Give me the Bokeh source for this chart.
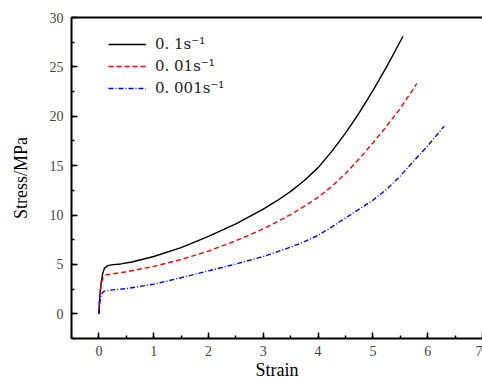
from bokeh.plotting import figure
from bokeh.models import (LinearAxis, SingleIntervalTicker, FixedTicker, Legend,
                          LegendItem, Range1d)
from bokeh.embed import file_html
from bokeh.resources import INLINE

# ---- data ----
strain_01 = [0, 0.01, 0.02, 0.04, 0.07, 0.1, 0.15, 0.22, 0.4, 0.6, 1.0, 1.5,
             2.0, 2.5, 3.0, 3.25, 3.5, 3.75, 4.0, 4.25, 4.5, 4.75, 5.0, 5.25,
             5.55]
stress_01 = [0, 1.2, 2.1, 3.1, 4.1, 4.6, 4.85, 4.95, 5.05, 5.25, 5.8, 6.7,
             7.85, 9.1, 10.6, 11.45, 12.4, 13.5, 14.8, 16.45, 18.3, 20.35, 22.6,
             25.0, 28.1]

strain_001 = [0, 0.01, 0.03, 0.05, 0.08, 0.13, 0.25, 0.5, 1.0, 1.5, 2.0, 2.5,
              3.0, 3.5, 3.75, 4.0, 4.25, 4.5, 4.75, 5.0, 5.25, 5.5, 5.8]
stress_001 = [0, 1.3, 2.5, 3.2, 3.7, 3.95, 4.05, 4.25, 4.8, 5.5, 6.35, 7.4,
              8.6, 10.05, 10.9, 11.8, 12.9, 14.2, 15.7, 17.3, 19.0, 20.8, 23.3]

strain_0001 = [0, 0.01, 0.03, 0.06, 0.1, 0.2, 0.5, 1.0, 1.5, 2.0, 2.5, 3.0,
               3.5, 3.75, 4.0, 4.25, 4.5, 5.0, 5.25, 5.5, 5.7, 6.0, 6.3]
stress_0001 = [0, 0.9, 1.7, 2.1, 2.3, 2.4, 2.55, 3.0, 3.65, 4.35, 5.05, 5.8,
               6.75, 7.3, 7.95, 8.8, 9.7, 11.5, 12.6, 13.95, 15.2, 17.0, 19.0]

labels = ["0. 1s\u207b\u00b9", "0. 01s\u207b\u00b9", "0. 001s\u207b\u00b9"]
x_label = "Strain"
y_label = "Stress/MPa"

SERIF = "Liberation Serif"
LEGEND_FONT = "DejaVu Serif"

p = figure(width=482, height=382, output_backend="svg", toolbar_location=None,
           x_range=Range1d(-0.5, 7.0), y_range=Range1d(-2.5, 30),
           x_axis_type=None, y_axis_type=None,
           min_border_left=71, min_border_right=0, min_border_top=17,
           min_border_bottom=44)
p.outline_line_color = None
p.xgrid.visible = False
p.ygrid.visible = False
p.background_fill_color = "white"


def style_axis(ax):
    ax.axis_line_width = 2
    ax.axis_line_color = "black"
    ax.major_tick_in = 6
    ax.major_tick_out = 0
    ax.minor_tick_in = 3
    ax.minor_tick_out = 0
    ax.major_tick_line_width = 1.5
    ax.minor_tick_line_width = 1.5
    ax.major_tick_line_color = "black"
    ax.minor_tick_line_color = "black"
    ax.major_label_text_font = SERIF
    ax.major_label_text_font_size = "14px"
    ax.major_label_text_color = "#444444"
    ax.axis_label_text_font = SERIF
    ax.axis_label_text_font_size = "18px"
    ax.axis_label_text_font_style = "normal"
    ax.axis_label_text_color = "black"


xaxis = LinearAxis(ticker=SingleIntervalTicker(interval=1, num_minor_ticks=2),
                   axis_label=x_label)
style_axis(xaxis)
xaxis.major_label_standoff = 7
xaxis.axis_label_standoff = 1
p.add_layout(xaxis, "below")

yaxis = LinearAxis(ticker=SingleIntervalTicker(interval=5, num_minor_ticks=2),
                   axis_label=y_label)
style_axis(yaxis)
yaxis.major_label_standoff = 8
yaxis.axis_label_standoff = 16
p.add_layout(yaxis, "left")

top = LinearAxis(ticker=FixedTicker(ticks=[]), axis_line_width=2,
                 major_tick_line_color=None, minor_tick_line_color=None,
                 major_label_text_font_size="0px")
p.add_layout(top, "above")

r1 = p.line(strain_01, stress_01, line_color="black", line_width=1.4)
r2 = p.line(strain_001, stress_001, line_color="#ff0000", line_width=1.4,
            line_dash="5 3")
r3 = p.line(strain_0001, stress_0001, line_color="#0000ff", line_width=1.4,
            line_dash="5 2 1 2")

legend = Legend(items=[LegendItem(label=labels[0], renderers=[r1]),
                       LegendItem(label=labels[1], renderers=[r2]),
                       LegendItem(label=labels[2], renderers=[r3])],
                location=(37, 239), padding=0, margin=0, spacing=0,
                glyph_width=38, glyph_height=22, label_height=22,
                label_standoff=9, label_text_font=LEGEND_FONT,
                label_text_font_size="15px", label_text_color="#222222",
                border_line_color=None, background_fill_alpha=0)
p.add_layout(legend, "center")

open("out.html", "w").write(file_html(p, INLINE))
